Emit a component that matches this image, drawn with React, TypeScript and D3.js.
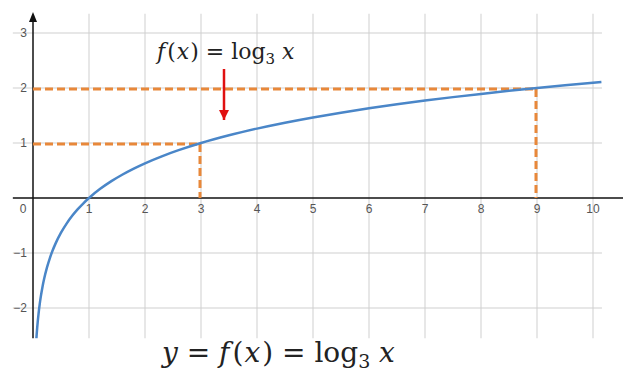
import React from "react";
import * as d3 from "d3";

const xTicks = [1, 2, 3, 4, 5, 6, 7, 8, 9, 10];
const yTicks = [-2, -1, 1, 2, 3];
const gridX = [1, 2, 3, 4, 5, 6, 7, 8, 9, 10];
const gridY = [-2, -1, 1, 2, 3];
const guidePoints = [
  { x: 3, y: 1 },
  { x: 9, y: 2 },
];
const curveXs = [
  0.06, 0.065, 0.075, 0.085, 0.1, 0.12, 0.14, 0.17, 0.2, 0.25, 0.3, 0.35, 0.4, 0.5, 0.6, 0.7, 0.8,
  0.9, 1, 1.2, 1.4, 1.6, 1.8, 2, 2.3, 2.6, 3, 3.5, 4, 4.5, 5, 5.5, 6, 6.5, 7, 7.5, 8, 8.5, 9,
  9.5, 10, 10.15,
];
const log3 = (v: number) => Math.log(v) / Math.log(3);

export default function App() {
  const W = 623;
  const H = 371;
  const x = d3.scaleLinear().domain([0, 10]).range([33, 593]);
  const y = d3.scaleLinear().domain([0, 3]).range([198, 33]);
  const xMinGrid = -0.36;
  const xMaxGrid = 10.16;
  const yMinGrid = -2.55;
  const yMaxGrid = 3.35;

  const line = d3
    .line<number>()
    .x((d) => x(d))
    .y((d) => y(log3(d)))
    .curve(d3.curveMonotoneX);

  const grey = "#cfcfcf";
  const orange = "#E8883A";
  const mathFont = "'DejaVu Serif', 'Liberation Serif', serif";

  return (
    <svg
      width={W}
      height={H}
      style={{ position: "absolute", left: 0, top: 0, background: "#fff" }}
      fontFamily="'Liberation Sans', Arial, sans-serif"
    >
      <defs>
        <marker id="ah" viewBox="0 0 10 10" refX="10" refY="5" markerWidth="4" markerHeight="4" orient="auto">
          <path d="M0,0 L10,5 L0,10 Z" fill="#e01010" />
        </marker>
        <clipPath id="plot">
          <rect x={0} y={0} width={W} height={y(yMinGrid)} />
        </clipPath>
      </defs>
      {/* grid */}
      {gridX.map((g) => (
        <line key={"gx" + g} x1={x(g)} x2={x(g)} y1={y(yMaxGrid)} y2={y(yMinGrid)} stroke={grey} strokeWidth={1} />
      ))}
      {gridY.map((g) => (
        <line key={"gy" + g} x1={x(xMinGrid)} x2={x(xMaxGrid)} y1={y(g)} y2={y(g)} stroke={grey} strokeWidth={1} />
      ))}
      {/* axes */}
      <line x1={x(xMinGrid)} x2={W} y1={y(0)} y2={y(0)} stroke="#111" strokeWidth={1.5} />
      <line x1={x(0)} x2={x(0)} y1={y(yMinGrid)} y2={20} stroke="#111" strokeWidth={1.5} />
      <path d={`M${x(0)},12 L${x(0) - 4},22 L${x(0) + 4},22 Z`} fill="#111" />
      {/* tick labels */}
      {xTicks.map((t) => (
        <text key={"xt" + t} x={x(t)} y={y(0) + 15} fontSize={12} fill="#555" textAnchor="middle">
          {t}
        </text>
      ))}
      <text x={x(0) - 10} y={y(0) + 15} fontSize={12} fill="#555" textAnchor="middle">
        0
      </text>
      {yTicks.map((t) => (
        <text key={"yt" + t} x={x(0) - 6} y={y(t) + 4} fontSize={12} fill="#555" textAnchor="end">
          {t < 0 ? "\u2212" + Math.abs(t) : t}
        </text>
      ))}
      {/* guides */}
      {guidePoints.map((p, i) => (
        <g key={"gp" + i}>
          <line
            x1={x(0)}
            x2={x(p.x) - 1}
            y1={y(p.y) + 1}
            y2={y(p.y) + 1}
            stroke={orange}
            strokeWidth={3}
            strokeDasharray="8 4"
          />
          <line
            x1={x(p.x) - 1}
            x2={x(p.x) - 1}
            y1={y(p.y) + 1}
            y2={y(0)}
            stroke={orange}
            strokeWidth={3}
            strokeDasharray="8 4"
          />
        </g>
      ))}
      {/* curve */}
      <path d={line(curveXs) || ""} fill="none" stroke="#4A86C8" strokeWidth={2.5} clipPath="url(#plot)" />
      {/* red arrow */}
      <line x1={224} x2={224} y1={69} y2={120} stroke="#e01010" strokeWidth={2.5} markerEnd="url(#ah)" />
      {/* labels */}
      <text x={157} y={59} fontSize={22} fontFamily={mathFont} fill="#222">
        <tspan fontStyle="italic">f</tspan>
        <tspan dx={2}>(</tspan>
        <tspan dx={1} fontStyle="italic">x</tspan>
        <tspan dx={1}>) = log</tspan>
        <tspan fontSize={15} dy={5}>3</tspan>
        <tspan dy={-5} fontStyle="italic"> x</tspan>
      </text>
      <text x={162} y={362} fontSize={28} fontFamily={mathFont} fill="#222">
        <tspan fontStyle="italic">y</tspan>
        <tspan> = </tspan>
        <tspan fontStyle="italic">f</tspan>
        <tspan dx={3}>(</tspan>
        <tspan dx={1} fontStyle="italic">x</tspan>
        <tspan dx={2}>) = log</tspan>
        <tspan fontSize={19} dy={6}>3</tspan>
        <tspan dy={-6} fontStyle="italic"> x</tspan>
      </text>
    </svg>
  );
}
